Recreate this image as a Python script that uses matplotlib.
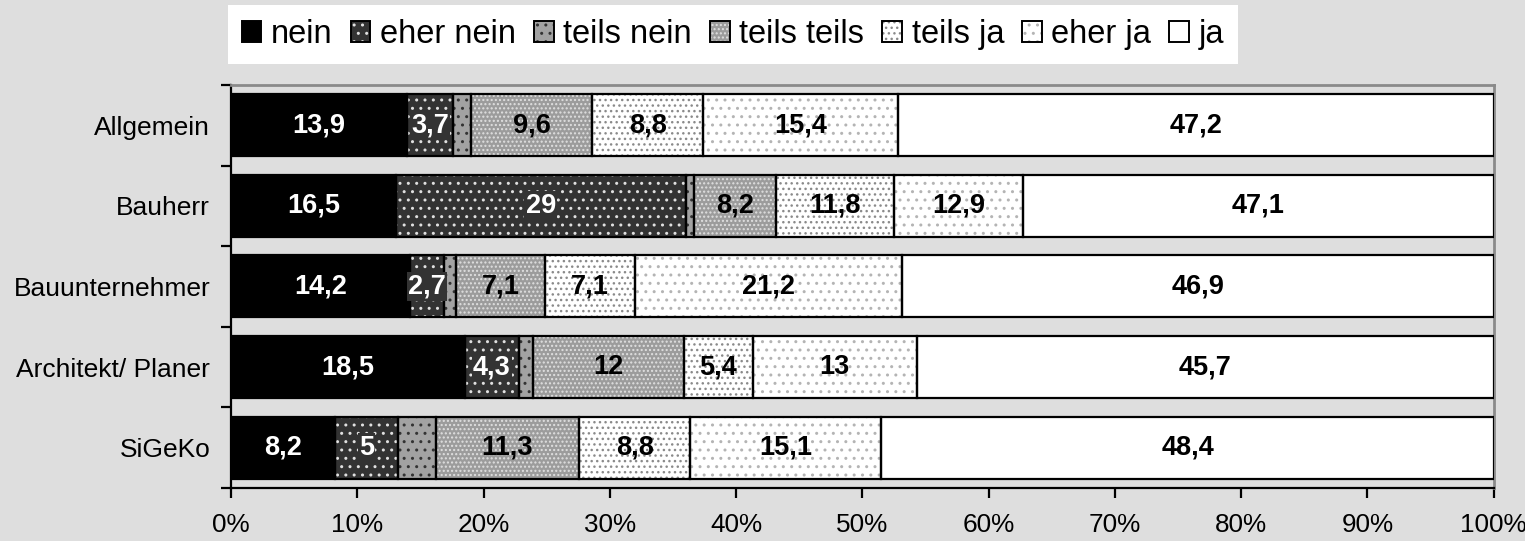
import numpy as np
import matplotlib.pyplot as plt
from matplotlib.patches import Patch
from matplotlib.legend_handler import HandlerTuple
from matplotlib.ticker import MultipleLocator, PercentFormatter

plt.rcParams['font.family'] = ['Liberation Sans', 'DejaVu Sans']
plt.rcParams['hatch.linewidth'] = 1.0

# answer shares per group (raw values, normalised to 100 % per bar)
groups = ["Allgemein", "Bauherr", "Bauunternehmer", "Architekt/ Planer", "SiGeKo"]
answers = ["nein", "eher nein", "teils nein", "teils teils", "teils ja", "eher ja", "ja"]
nein = [13.9, 16.5, 14.2, 18.5, 8.2]
eher_nein = [3.7, 29, 2.7, 4.3, 5]
teils_nein = [1.4, 0.8, 0.9, 1.1, 3.0]
teils_teils = [9.6, 8.2, 7.1, 12, 11.3]
teils_ja = [8.8, 11.8, 7.1, 5.4, 8.8]
eher_ja = [15.4, 12.9, 21.2, 13, 15.1]
ja = [47.2, 47.1, 46.9, 45.7, 48.4]
show_label = [True, True, False, True, True, True, True]

# (face, hatch, hatch colour, text colour)
styles = [
    ("#000000", None, "#000000", "white"),
    ("#333333", "..", "#e0e0e0", "white"),
    ("#a2a2a2", "..", "#333333", "black"),
    ("#9c9c9c", "....", "#e0e0e0", "black"),
    ("#ffffff", "...", "#8a8a8a", "black"),
    ("#ffffff", "..", "#b4b4b4", "black"),
    ("#ffffff", None, "#ffffff", "black"),
]

bg = "#dedede"
data = np.array([nein, eher_nein, teils_nein, teils_teils, teils_ja, eher_ja, ja], dtype=float)
shares = data / data.sum(axis=0) * 100

fig = plt.figure(figsize=(15.25, 5.41), dpi=100, facecolor=bg)
ax = fig.add_axes([0.1515, 0.098, 0.828, 0.745])
ax.set_facecolor(bg)

y = np.arange(len(groups))
h = 0.77
left = np.zeros(len(groups))
handles = []
for i, name in enumerate(answers):
    face, hatch, hcol, tcol = styles[i]
    ax.barh(y, shares[i], left=left, height=h, color=face, hatch=hatch,
            edgecolor=hcol, linewidth=0, zorder=2)
    ax.barh(y, shares[i], left=left, height=h, fill=False,
            edgecolor="black", linewidth=1.6, zorder=3)
    if show_label[i]:
        for j in range(len(groups)):
            v = data[i, j]
            txt = f"{v:g}".replace(".", ",")
            box = None
            if i == 1:
                box = dict(boxstyle="square,pad=0.05", facecolor=face, edgecolor="none")
            ax.text(left[j] + shares[i, j] / 2, y[j], txt, ha="center", va="center",
                    color=tcol, fontsize=19.5, fontweight="bold", zorder=4, bbox=box)
    fp = Patch(facecolor=face, hatch=hatch, edgecolor=hcol, linewidth=0)
    op = Patch(fill=False, edgecolor="black", linewidth=1.4)
    handles.append((fp, op))
    left += shares[i]

ax.set_xlim(0, 100)
ax.set_ylim(len(groups) - 0.5, -0.5)
ax.xaxis.set_major_locator(MultipleLocator(10))
ax.xaxis.set_major_formatter(PercentFormatter(decimals=0))
ax.set_yticks(y)
ax.set_yticklabels(groups)
ax.yaxis.set_minor_locator(MultipleLocator(1, offset=0.5))
ax.tick_params(axis="y", which="major", length=0, pad=15, labelsize=19)
ax.tick_params(axis="y", which="minor", length=7, width=1.6, direction="out")
ax.tick_params(axis="x", length=7, width=1.6, pad=11, labelsize=18.8)

for s in ["left", "bottom"]:
    ax.spines[s].set_color("black")
    ax.spines[s].set_linewidth(1.6)
for s in ["top", "right"]:
    ax.spines[s].set_color("#8a8a8a")
    ax.spines[s].set_linewidth(2)

leg = fig.legend(handles, answers, handler_map={tuple: HandlerTuple(ndivide=1, pad=0)},
                 loc="upper left", bbox_to_anchor=(0.1495, 0.99), ncol=7,
                 fontsize=23.5, frameon=True, fancybox=False, framealpha=1,
                 handlelength=0.6, handleheight=0.6, handletextpad=0.3,
                 columnspacing=0.55, borderpad=0.42, borderaxespad=0)
leg.get_frame().set_facecolor("white")
leg.get_frame().set_edgecolor("none")

fig.savefig("out.png", dpi=100, facecolor=bg)
